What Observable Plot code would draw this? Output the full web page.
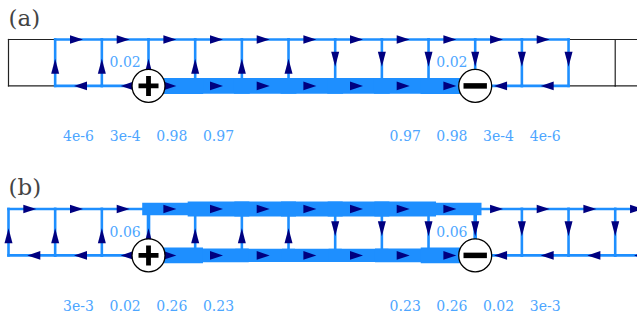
<!DOCTYPE html>
<html><head><meta charset="utf-8">
<script src="https://cdn.jsdelivr.net/npm/d3@7"></script>
<script src="https://cdn.jsdelivr.net/npm/@observablehq/plot@0.6"></script>
<style>
html,body{margin:0;padding:0;background:#fff;overflow:hidden}
#chart svg text{font-family:"DejaVu Serif","Times New Roman",Tinos,"Liberation Serif","Noto Serif",serif !important}
</style>
</head><body><div id="chart"></div>
<script>
// ---- data -------------------------------------------------------------
const panelNames = ["(a)", "(b)"];
const nodeIndex = [0,1,2,3,4,5,6,7,8,9,10,11,12,13,14]; // node 14 lies just past the right edge
const sourceNode = 3;   // "+" terminal, bottom rail
const sinkNode = 10;    // "−" terminal, bottom rail

// signed currents; segment k joins node k and k+1 (+ = rightward); null = plain black wire
const topCurrentA    = [null, 4e-6, 3e-4, 0.02, 0.03, 0.03, 0.03, 0.03, 0.03, 0.02, 3e-4, 4e-6, null, null];
const bottomCurrentA = [null, -4e-6, -3e-4, 0.98, 0.97, 0.97, 0.97, 0.97, 0.97, 0.98, -3e-4, -4e-6, null, null];
// rung currents at node k (+ = upward)
const rungCurrentA   = [null, 4e-6, 3e-4, 0.02, 0.01, 3e-3, 1e-3, -1e-3, -3e-3, -0.01, -0.02, -3e-4, -4e-6, null];

const topCurrentB    = [1e-3, 4e-3, 0.02, 0.21, 0.25, 0.25, 0.25, 0.25, 0.25, 0.21, 0.02, 4e-3, 1e-3, 3e-4];
const bottomCurrentB = [-1e-3, -3e-3, -0.02, 0.26, 0.23, 0.22, 0.22, 0.22, 0.23, 0.26, -0.02, -3e-3, -1e-3, -3e-4];
const rungCurrentB   = [1e-3, 3e-3, 0.02, 0.06, 0.03, 0.01, 3e-3, -3e-3, -0.01, -0.03, -0.06, -0.02, -3e-3, -1e-3];

// printed labels
const rungLabelNodes = [3, 10];
const rungLabelsA = ["0.02", "0.02"];
const rungLabelsB = ["0.06", "0.06"];
const bottomLabelSegs = [1, 2, 3, 4, 8, 9, 10, 11];
const bottomLabelsA = ["4e-6", "3e-4", "0.98", "0.97", "0.97", "0.98", "3e-4", "4e-6"];
const bottomLabelsB = ["3e-3", "0.02", "0.26", "0.23", "0.23", "0.26", "0.02", "3e-3"];

// ---- layout -----------------------------------------------------------
const W = 637, H = 322;
const PX_X = 46.67, X0 = 8;        // pixels per node, pixel of node 0
const PX_Y = 46.4, Y0 = 39;        // pixels per rail spacing, pixel of top rail in (a)
const PANEL_STEP = 3.653;          // vertical offset of panel (b), in rail spacings
const WMAX = [16, 15.6], WMIN = 2.6;
const BLUE = "#1e8fff", NAVY = "#000080";

const panels = [
  {name: panelNames[0], top: topCurrentA, bottom: bottomCurrentA, rung: rungCurrentA, rungLabels: rungLabelsA, bottomLabels: bottomLabelsA},
  {name: panelNames[1], top: topCurrentB, bottom: bottomCurrentB, rung: rungCurrentB, rungLabels: rungLabelsB, bottomLabels: bottomLabelsB}
];

const blackWires = [], blueWires = [], arrowsH = [], arrowsV = [], texts = [], letters = [], plus = [], minus = [];
panels.forEach((p, pi) => {
  const yTop = pi * PANEL_STEP, yBot = yTop + 1;
  const maxI = d3.max([...p.top, ...p.bottom, ...p.rung].filter(v => v != null), Math.abs);
  const wOf = I => Math.max(WMIN, Math.abs(I) * WMAX[pi] / maxI);
  const add = (x1, x2, y1, y2, I) => {
    if (I == null) blackWires.push({x1, x2, y1, y2});
    else blueWires.push({x1, x2, y1, y2, w: wOf(I)});
  };
  p.top.forEach((I, k) => {
    add(nodeIndex[k], nodeIndex[k + 1], yTop, yTop, I);
    if (I != null) arrowsH.push({x: (nodeIndex[k] + nodeIndex[k + 1]) / 2, y: yTop, rot: I >= 0 ? 0 : 180});
  });
  p.bottom.forEach((I, k) => {
    add(nodeIndex[k], nodeIndex[k + 1], yBot, yBot, I);
    if (I != null) arrowsH.push({x: (nodeIndex[k] + nodeIndex[k + 1]) / 2, y: yBot, rot: I >= 0 ? 0 : 180});
  });
  p.rung.forEach((I, k) => {
    add(nodeIndex[k], nodeIndex[k], yTop, yBot, I);
    if (I != null) arrowsV.push({x: nodeIndex[k], y: (yTop + yBot) / 2, rot: I >= 0 ? -90 : 90});
  });
  rungLabelNodes.forEach((n, i) => texts.push({x: n - 0.5, y: (yTop + yBot) / 2, text: p.rungLabels[i]}));
  bottomLabelSegs.forEach((s, i) => texts.push({x: s + 0.5, y: yBot + 1.1, text: p.bottomLabels[i]}));
  letters.push({x: nodeIndex[0], y: yTop, text: p.name});
  plus.push({x: sourceNode, y: yBot});
  minus.push({x: sinkNode, y: yBot});
});
blueWires.sort((a, b) => a.w - b.w);

// glyphs
const arrowHSym = {draw(c) { c.moveTo(4.5, 0); c.lineTo(-8.5, -4.3); c.lineTo(-8.5, 4.3); c.closePath(); }};
const arrowVSym = {draw(c) { c.moveTo(4, 0); c.lineTo(-11, -4); c.lineTo(-11, 4); c.closePath(); }};
const plusSym = {draw(c) { c.moveTo(-10, 0); c.lineTo(10, 0); c.moveTo(0, -10); c.lineTo(0, 10); }};
const minusSym = {draw(c) { c.moveTo(-11.7, 0); c.lineTo(11.7, 0); }};

const xDom = [-X0 / PX_X, (W - X0) / PX_X];
const yDom = [-Y0 / PX_Y, (H - Y0) / PX_Y];
const serif = "DejaVu Serif";

const chart = Plot.plot({
  width: W, height: H,
  margin: 0,
  x: {domain: xDom, range: [0, W], axis: null},
  y: {domain: yDom, range: [0, H], axis: null},
  style: {background: "white", overflow: "hidden", fontFamily: serif},
  marks: [
    Plot.link(blackWires, {x1: "x1", x2: "x2", y1: "y1", y2: "y2", stroke: "#222", strokeWidth: 1.2, strokeLinecap: "square"}),
    Plot.link(blueWires, {x1: "x1", x2: "x2", y1: "y1", y2: "y2", stroke: BLUE, strokeWidth: "w", strokeLinecap: "square"}),
    Plot.dot(arrowsH, {x: "x", y: "y", rotate: "rot", symbol: arrowHSym, fill: NAVY, stroke: "none", r: 5}),
    Plot.dot(arrowsV, {x: "x", y: "y", rotate: "rot", symbol: arrowVSym, fill: NAVY, stroke: "none", r: 5}),
    Plot.dot([...plus, ...minus], {x: "x", y: "y", r: 16.5, fill: "white", stroke: "black", strokeWidth: 1.3}),
    Plot.dot(plus, {x: "x", y: "y", symbol: plusSym, r: 10, fill: "none", stroke: "black", strokeWidth: 4.8}),
    Plot.dot(minus, {x: "x", y: "y", symbol: minusSym, r: 10, fill: "none", stroke: "black", strokeWidth: 5.5}),
    Plot.text(texts, {x: "x", y: "y", text: "text", fill: "#4da6ff", fontSize: 14, fontFamily: serif}),
    Plot.text(letters, {x: "x", y: "y", text: "text", textAnchor: "start", dy: -21, fill: "#444", fontSize: 23, fontFamily: serif})
  ]
});
document.getElementById("chart").appendChild(chart);
</script>
</body></html>
